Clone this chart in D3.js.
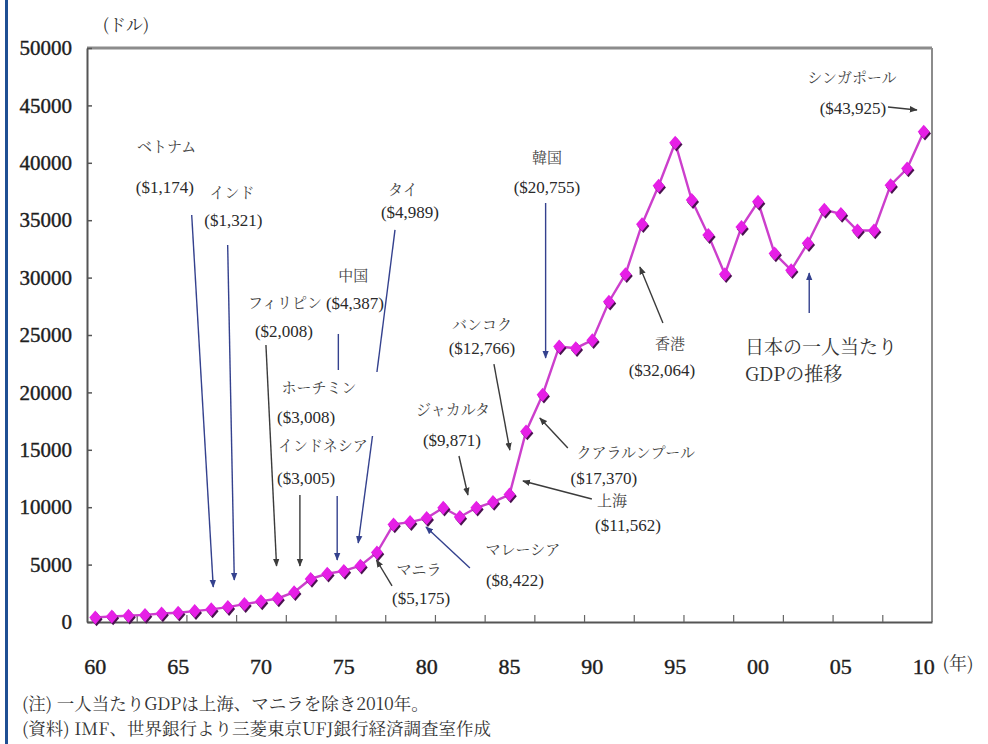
<!DOCTYPE html>
<html>
<head>
<meta charset="utf-8">
<script src="https://cdn.jsdelivr.net/npm/d3@7"></script>
<style>
  html, body { margin: 0; padding: 0; background: #fff; }
  svg { display: block; }
</style>
</head>
<body>
<svg id="chart" width="988" height="744"></svg>
<script>
// Japan's GDP per capita (US$), 1960–2010
const years = [
  1960, 1961, 1962, 1963, 1964, 1965, 1966, 1967, 1968, 1969,
  1970, 1971, 1972, 1973, 1974, 1975, 1976, 1977, 1978, 1979,
  1980, 1981, 1982, 1983, 1984, 1985, 1986, 1987, 1988, 1989,
  1990, 1991, 1992, 1993, 1994, 1995, 1996, 1997, 1998, 1999,
  2000, 2001, 2002, 2003, 2004, 2005, 2006, 2007, 2008, 2009, 2010
];
const gdpPerCapita = [
  400, 480, 540, 620, 740, 800, 950, 1100, 1300, 1560,
  1800, 2050, 2600, 3750, 4200, 4450, 4900, 6050, 8500, 8700,
  9050, 9950, 9150, 9950, 10450, 11100, 16600, 19800, 24000, 23850,
  24550, 27900, 30300, 34650, 38000, 41750, 36750, 33700, 30300, 34400,
  36600, 32100, 30650, 33000, 35900, 35550, 34100, 34100, 38050, 39500, 42700
];
const yTicks = [0, 5000, 10000, 15000, 20000, 25000, 30000, 35000, 40000, 45000, 50000];
const xLabelYears = [1960, 1965, 1970, 1975, 1980, 1985, 1990, 1995, 2000, 2005, 2010];
const xLabelText = ["60", "65", "70", "75", "80", "85", "90", "95", "00", "05", "10"];

// Country / city labels: text, centre year, centre value, kind
const labelItems = [
  ["ベトナム", 1964.31, 41400, "name"],
  ["($1,174)", 1964.2, 37900, "val"],
  ["インド", 1968.25, 37400, "name"],
  ["($1,321)", 1968.33, 35000, "val"],
  ["タイ", 1978.57, 37630, "name"],
  ["($4,989)", 1978.99, 35700, "val"],
  ["中国", 1975.57, 30140, "name"],
  ["($4,387)", 1975.67, 27790, "val"],
  ["フィリピン", 1971.45, 27790, "name"],
  ["($2,008)", 1971.39, 25350, "val"],
  ["ホーチミン", 1973.5, 20380, "name"],
  ["($3,008)", 1972.72, 17860, "val"],
  ["インドネシア", 1973.74, 15330, "name"],
  ["($3,005)", 1972.72, 12540, "val"],
  ["マニラ", 1979.54, 4530, "name"],
  ["($5,175)", 1979.66, 2090, "val"],
  ["マレーシア", 1985.81, 6270, "name"],
  ["($8,422)", 1985.33, 3660, "val"],
  ["ジャカルタ", 1981.59, 18470, "name"],
  ["($9,871)", 1981.53, 15850, "val"],
  ["バンコク", 1983.34, 25870, "name"],
  ["($12,766)", 1983.34, 23870, "val"],
  ["クアラルンプール", 1992.62, 14720, "name"],
  ["($17,370)", 1990.69, 12540, "val"],
  ["上海", 1991.18, 10540, "name"],
  ["($11,562)", 1992.15, 8450, "val"],
  ["韓国", 1987.26, 40420, "name"],
  ["($20,755)", 1987.26, 37890, "val"],
  ["香港", 1994.68, 24220, "name"],
  ["($32,064)", 1994.2, 21950, "val"],
  ["シンガポール", 2005.67, 47390, "name"],
  ["($43,925)", 2005.73, 44770, "val"]
];
// Caption for the Japan series (left-aligned)
const captionLines = [
  ["日本の一人当たり", 1999.21, 23950],
  ["GDPの推移", 1999.21, 21600]
];
// Pointer lines: from (year, value) to (year, value), colour group, arrowhead
const pointers = [
  [1965.82, 35450, 1967.12, 3050, "navy", true],   // ベトナム
  [1967.99, 32840, 1968.39, 3660, "navy", true],   // インド
  [1970.30, 24130, 1970.94, 4880, "dark", true],   // フィリピン
  [1974.67, 25090, 1974.67, 21950, "navy", false], // 中国 (upper part)
  [1974.60, 10980, 1974.60, 5400, "navy", true],   // 中国 (lower part)
  [1972.35, 11060, 1972.35, 4880, "dark", true],   // ホーチミン / インドネシア
  [1978.09, 34150, 1977.00, 21780, "navy", false], // タイ (upper part)
  [1976.73, 16200, 1975.87, 6880, "navy", true],   // タイ (lower part)
  [1977.91, 3140, 1976.97, 5400, "dark", true],    // マニラ
  [1982.61, 4700, 1979.96, 8280, "navy", true],    // マレーシア
  [1981.95, 14460, 1982.49, 11060, "dark", true],  // ジャカルタ
  [1984.06, 22470, 1985.02, 14980, "dark", true],  // バンコク
  [1989.97, 10710, 1985.81, 12280, "dark", true],  // 上海
  [1988.52, 15160, 1986.83, 17770, "dark", true],  // クアラルンプール
  [1987.18, 36500, 1987.18, 23000, "navy", true],  // 韓国
  [1994.26, 26050, 1992.87, 30920, "dark", true],  // 香港
  [2003.09, 26920, 2003.09, 30400, "navy", true],  // 日本
  [2007.84, 44860, 2009.59, 44600, "dark", true]   // シンガポール
];

const series = years.map((yr, i) => ({ year: yr, v: gdpPerCapita[i] }));

const NUM_FONT = '"Liberation Serif", "Times New Roman", serif';
const JP_FONT = '"Noto Serif CJK JP", "Liberation Serif", serif';

const svg = d3.select("#chart");
const plot = { left: 87, right: 932, top: 48, bottom: 622 };

const x = d3.scaleBand().domain(years).range([plot.left, plot.right]);
const xc = yr => x(yr) + x.bandwidth() / 2;
const xa = d3.scaleLinear().domain([1960, 2010]).range([xc(1960), xc(2010)]);
const y = d3.scaleLinear().domain([0, 50000]).range([plot.bottom, plot.top]);

// page edge stripe
svg.append("rect").attr("x", 5).attr("y", 0).attr("width", 3).attr("height", 744)
  .attr("fill", "#1f4f93");

// frame: top and right borders
svg.append("line").attr("x1", plot.left).attr("x2", plot.right)
  .attr("y1", plot.top).attr("y2", plot.top)
  .attr("stroke", "#8c8c8c").attr("stroke-width", 3);
svg.append("line").attr("x1", plot.right).attr("x2", plot.right)
  .attr("y1", plot.top).attr("y2", plot.bottom)
  .attr("stroke", "#8c8c8c").attr("stroke-width", 2);

// y axis
const yAxis = svg.append("g").attr("transform", `translate(${plot.left},0)`)
  .call(d3.axisLeft(y).tickValues(yTicks).tickFormat(d3.format("d"))
    .tickSizeInner(-5).tickSizeOuter(0).tickPadding(15));
yAxis.select(".domain").attr("stroke", "#555").attr("stroke-width", 2);
yAxis.selectAll(".tick line").attr("stroke", "#555").attr("stroke-width", 1.5);
yAxis.selectAll(".tick text")
  .style("font-family", NUM_FONT).style("font-size", "21px")
  .attr("fill", "#1e1e1e").attr("stroke", "#1e1e1e").attr("stroke-width", 0.4);

// x axis: tick marks every third category boundary
const xb = d3.scaleLinear().domain([0, years.length]).range([plot.left, plot.right]);
const xTicks = svg.append("g").attr("transform", `translate(0,${plot.bottom})`)
  .call(d3.axisBottom(xb).tickValues(d3.range(3, years.length, 3))
    .tickSizeInner(-7).tickSizeOuter(0).tickFormat(""));
xTicks.select(".domain").attr("stroke", "#555").attr("stroke-width", 2);
xTicks.selectAll(".tick line").attr("stroke", "#666").attr("stroke-width", 1.2);

// x axis labels
const xLab = svg.append("g").attr("transform", `translate(0,${plot.bottom})`)
  .call(d3.axisBottom(x).tickValues(xLabelYears).tickSize(0).tickPadding(36)
    .tickFormat(d => xLabelText[xLabelYears.indexOf(d)]));
xLab.select(".domain").remove();
xLab.selectAll(".tick text")
  .style("font-family", NUM_FONT).style("font-size", "22px")
  .attr("fill", "#1e1e1e").attr("stroke", "#1e1e1e").attr("stroke-width", 0.4);

// unit labels
svg.append("text").attr("x", 126).attr("y", 25).attr("dy", "0.35em")
  .attr("text-anchor", "middle")
  .style("font-family", JP_FONT).style("font-size", "17px")
  .attr("fill", "#333").text("(ドル)");
svg.append("text").attr("x", 958).attr("y", 664).attr("dy", "0.35em")
  .attr("text-anchor", "middle")
  .style("font-family", JP_FONT).style("font-size", "18px")
  .attr("fill", "#333").text("(年)");

// arrowheads
const defs = svg.append("defs");
const arrowColors = { navy: "#34418e", dark: "#3b3b3b" };
Object.entries(arrowColors).forEach(([k, c]) => {
  defs.append("marker").attr("id", "head-" + k)
    .attr("viewBox", "0 0 10 8").attr("refX", 9).attr("refY", 4)
    .attr("markerUnits", "userSpaceOnUse")
    .attr("markerWidth", 8).attr("markerHeight", 7).attr("orient", "auto")
    .append("path").attr("d", "M0,0 L10,4 L0,8 Z").attr("fill", c);
});

// pointer lines
svg.append("g").selectAll("line").data(pointers).join("line")
  .attr("x1", d => xa(d[0])).attr("y1", d => y(d[1]))
  .attr("x2", d => xa(d[2])).attr("y2", d => y(d[3]))
  .attr("stroke", d => arrowColors[d[4]]).attr("stroke-width", 1.4)
  .attr("marker-end", d => d[5] ? `url(#head-${d[4]})` : null);

// Japan series line
svg.append("path").datum(series)
  .attr("fill", "none").attr("stroke", "#cc3fcc").attr("stroke-width", 2.4)
  .attr("d", d3.line().x(d => xc(d.year)).y(d => y(d.v)));

// diamond markers with a dark lower edge
const diamond = "M0,-7 L6,0 L0,7 L-6,0 Z";
const mk = svg.append("g").selectAll("g").data(series).join("g")
  .attr("transform", d => `translate(${xc(d.year)},${y(d.v)})`);
mk.append("path").attr("d", diamond).attr("transform", "translate(1.3,1.8)")
  .attr("fill", "#4a1250");
mk.append("path").attr("d", diamond).attr("fill", "#e61fe6");

// country / city labels
svg.append("g").selectAll("text").data(labelItems).join("text")
  .attr("x", d => xa(d[1])).attr("y", d => y(d[2])).attr("dy", "0.35em")
  .attr("text-anchor", "middle")
  .style("font-family", d => d[3] === "name" ? JP_FONT : NUM_FONT)
  .style("font-size", d => d[3] === "name" ? "15px" : "17px")
  .attr("fill", d => d[3] === "name" ? "#444" : "#2a2a2a")
  .text(d => d[0]);

// caption for the Japan series
svg.append("g").selectAll("text").data(captionLines).join("text")
  .attr("x", d => xa(d[1])).attr("y", d => y(d[2])).attr("dy", "0.35em")
  .attr("text-anchor", "start")
  .style("font-family", JP_FONT).style("font-size", "19px")
  .attr("fill", "#333").text(d => d[0]);

// notes
const notes = [
  "(注) 一人当たりGDPは上海、マニラを除き2010年。",
  "(資料) IMF、世界銀行より三菱東京UFJ銀行経済調査室作成"
];
svg.append("g").selectAll("text").data(notes).join("text")
  .attr("x", 22).attr("y", (d, i) => 704 + i * 25).attr("dy", "0.35em")
  .style("font-family", JP_FONT).style("font-size", "17.5px").attr("fill", "#333")
  .text(d => d);
</script>
</body>
</html>
